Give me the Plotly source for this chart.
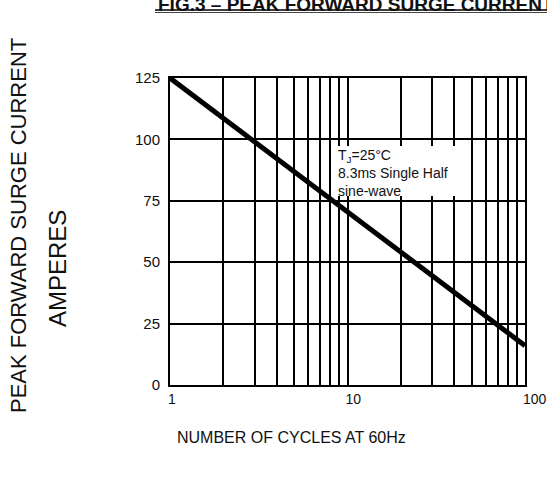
import numpy as np
import plotly.graph_objects as go

# Surge rating curve: peak forward surge current vs number of cycles
cycles = [1, 100]
surge_current = [125, 16]

y_ticks = [0, 25, 50, 75, 100, 125]
x_ticks = [1, 10, 100]
x_tick_text = ["1", "10", "100"]

FONT = "Liberation Sans, Arial, Helvetica, sans-serif"
INK = "#111111"

W, H = 547, 479
L, R, T, B = 170, 22, 78, 94
pw, ph = W - L - R, H - T - B


def px_x(x):
    return (x - L) / pw


def px_y(y):
    return (H - B - y) / ph


fig = go.Figure()
fig.add_trace(go.Scatter(
    x=cycles, y=surge_current, mode="lines",
    line=dict(color="black", width=5),
    showlegend=False, hoverinfo="skip",
))

fig.update_xaxes(
    type="log", range=[0, 2], automargin=False,
    tickvals=x_ticks, ticktext=x_tick_text,
    ticklabelposition="outside right", ticklabeloverflow="allow",
    ticklabelshift=-3,
    showgrid=True, gridcolor="black", gridwidth=1.5,
    minor=dict(showgrid=True, gridcolor="black", gridwidth=1.5, dtick="D1"),
    showline=True, linecolor="black", linewidth=2, mirror=True,
    ticks="", zeroline=False,
    tickfont=dict(family=FONT, size=14, color=INK),
)
fig.update_yaxes(
    range=[0, 125], tickvals=y_ticks, automargin=False,
    showgrid=True, gridcolor="black", gridwidth=1.5,
    showline=True, linecolor="black", linewidth=2, mirror=True,
    ticks="", zeroline=False, ticklabelstandoff=5,
    tickfont=dict(family=FONT, size=15, color=INK),
)

annotations = [
    # condition note
    dict(text="T<sub>J</sub>=25°C<br>8.3ms Single Half<br>sine-wave",
         xref="paper", yref="paper", x=px_x(337), y=px_y(146),
         xanchor="left", yanchor="top", align="left", showarrow=False,
         borderpad=0,
         font=dict(family=FONT, size=14, color=INK)),
    # axis titles
    dict(text="PEAK FORWARD SURGE CURRENT", xref="paper", yref="paper",
         x=px_x(18), y=px_y(226), textangle=-90, showarrow=False,
         xanchor="center", yanchor="middle",
         font=dict(family=FONT, size=22, color=INK)),
    dict(text="AMPERES", xref="paper", yref="paper",
         x=px_x(57), y=px_y(269), textangle=-90, showarrow=False,
         xanchor="center", yanchor="middle",
         font=dict(family=FONT, size=24, color=INK)),
    dict(text="NUMBER OF CYCLES AT 60Hz", xref="paper", yref="paper",
         x=px_x(291), y=px_y(437), showarrow=False,
         xanchor="center", yanchor="middle",
         font=dict(family=FONT, size=16, color=INK)),
    # figure caption, running off the top edge
    dict(text="<b>FIG.3 – PEAK FORWARD SURGE CURRENT</b>", xref="paper", yref="paper",
         x=px_x(156), y=px_y(17), showarrow=False,
         xanchor="left", yanchor="bottom",
         font=dict(family=FONT, size=19, color=INK)),
]

shapes = [
    # white panel behind the condition note
    dict(type="rect", xref="paper", yref="paper", layer="above",
         x0=px_x(333), x1=px_x(455), y0=px_y(196), y1=px_y(146),
         fillcolor="white", line=dict(width=0)),
    # caption underline
    dict(type="line", xref="paper", yref="paper",
         x0=px_x(155), x1=px_x(W + 5), y0=px_y(10), y1=px_y(10),
         line=dict(color="black", width=1.5)),
    dict(type="line", xref="paper", yref="paper",
         x0=px_x(155), x1=px_x(W + 5), y0=px_y(12.5), y1=px_y(12.5),
         line=dict(color="#444444", width=1)),
]

fig.update_layout(
    width=W, height=H,
    margin=dict(l=L, r=R, t=T, b=B, pad=0, autoexpand=False),
    paper_bgcolor="white", plot_bgcolor="white",
    annotations=annotations, shapes=shapes,
    showlegend=False,
)

fig.write_html("out.html")
